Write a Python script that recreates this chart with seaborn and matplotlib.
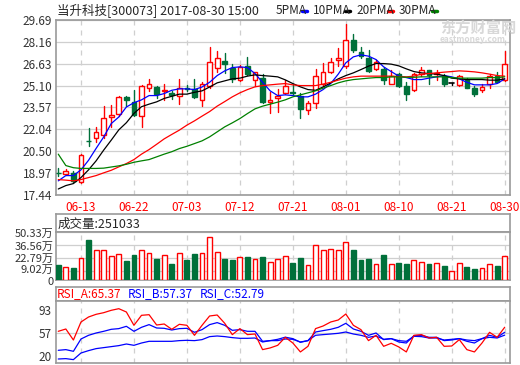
import matplotlib
matplotlib.use("Agg")
import matplotlib.pyplot as plt
import seaborn as sns
import pandas as pd
from matplotlib.lines import Line2D
from matplotlib.patches import Rectangle
from matplotlib.transforms import ScaledTranslation


dates = ["06-08", "06-09", "06-12", "06-13", "06-14", "06-15", "06-16", "06-19", "06-20", "06-21",
         "06-22", "06-23", "06-26", "06-27", "06-28", "06-29", "06-30", "07-03", "07-04", "07-05",
         "07-06", "07-07", "07-10", "07-11", "07-12", "07-13", "07-14", "07-17", "07-18", "07-19",
         "07-20", "07-21", "07-24", "07-25", "07-26", "07-27", "07-28", "07-31", "08-01", "08-02",
         "08-03", "08-04", "08-07", "08-08", "08-09", "08-10", "08-11", "08-14", "08-15", "08-16",
         "08-17", "08-18", "08-21", "08-22", "08-23", "08-24", "08-25", "08-28", "08-29", "08-30"]

opens = [19.00, 18.90, 19.00, 18.35, 21.25, 21.40, 21.65, 22.90, 23.10, 24.30,
         23.98, 22.96, 24.96, 25.00, 24.70, 24.55, 24.35, 24.93, 24.87, 24.08,
         25.10, 26.36, 26.83, 26.32, 25.48, 26.46, 25.52, 25.62, 23.94, 24.26,
         24.60, 24.62, 24.40, 23.38, 23.85, 25.24, 26.08, 26.88, 26.50, 28.28,
         27.44, 27.06, 26.27, 26.27, 25.24, 25.90, 25.06, 24.78, 25.90, 26.17,
         25.92, 25.76, 25.29, 25.15, 25.48, 24.92, 24.78, 25.24, 25.80, 25.48]
highs = [19.32, 19.27, 19.10, 20.30, 22.10, 22.20, 23.65, 23.75, 24.38, 24.38,
         24.80, 25.12, 25.57, 25.05, 25.24, 24.75, 25.57, 25.12, 25.57, 25.38,
         27.81, 27.53, 27.39, 26.60, 26.51, 27.11, 26.08, 25.94, 24.64, 24.87,
         25.48, 25.20, 24.59, 24.00, 26.27, 26.69, 27.02, 27.76, 29.44, 28.74,
         27.81, 27.58, 26.88, 26.41, 26.22, 26.00, 25.38, 26.00, 26.41, 26.22,
         26.22, 25.90, 25.30, 25.85, 25.62, 25.10, 25.24, 25.90, 26.08, 27.53]
lows = [18.80, 18.85, 18.35, 18.30, 20.90, 21.15, 21.40, 22.20, 23.00, 23.70,
        23.00, 22.20, 24.73, 24.26, 24.08, 24.17, 23.80, 24.73, 24.25, 23.66,
        24.96, 26.08, 25.99, 25.38, 25.43, 25.85, 25.10, 23.89, 23.19, 23.24,
        24.50, 24.45, 22.81, 23.14, 23.56, 25.10, 25.99, 26.50, 26.36, 27.48,
        27.02, 26.08, 26.22, 25.24, 25.20, 25.00, 24.08, 24.73, 25.76, 25.24,
        25.48, 25.10, 25.15, 25.10, 24.92, 24.36, 24.64, 24.96, 25.33, 25.43]
closes = [18.95, 19.12, 18.40, 20.25, 21.20, 21.85, 22.80, 23.05, 24.30, 24.08,
          23.07, 25.06, 25.24, 24.50, 24.80, 24.45, 24.96, 24.88, 24.27, 25.20,
          26.74, 27.02, 26.60, 25.57, 26.41, 25.90, 26.04, 23.98, 24.12, 24.34,
          25.06, 24.56, 23.47, 23.89, 25.80, 26.04, 26.74, 27.02, 28.28, 27.58,
          27.16, 26.13, 26.74, 25.48, 25.80, 25.10, 24.54, 25.94, 26.22, 25.85,
          25.99, 25.24, 25.29, 25.76, 24.96, 24.50, 25.01, 25.80, 25.38, 26.60]

ma5 = [18.43, 18.80, 18.80, 19.20, 19.87, 20.70, 21.50, 22.44, 22.90, 23.60,
       23.90, 24.10, 24.40, 24.40, 24.54, 24.77, 24.87, 24.87, 24.82, 25.00,
       25.33, 25.80, 26.13, 26.36, 26.41, 26.36, 25.94, 25.33, 24.73, 24.40,
       24.45, 24.40, 24.31, 24.31, 24.50, 24.82, 25.24, 25.90, 26.69, 27.11,
       27.25, 27.16, 26.92, 26.41, 26.08, 25.76, 25.66, 25.52, 25.52, 25.62,
       25.71, 25.80, 25.71, 25.57, 25.33, 25.15, 25.15, 25.15, 25.24, 25.57]
ma10 = [17.86, 18.10, 18.24, 18.66, 19.20, 19.83, 20.58, 21.28, 22.00, 22.50,
        23.15, 23.62, 23.80, 23.96, 24.20, 24.35, 24.50, 24.50, 24.63, 24.73,
        25.00, 25.29, 25.43, 25.57, 25.62, 25.76, 25.85, 25.80, 25.76, 25.71,
        25.50, 25.24, 25.01, 24.82, 24.77, 25.00, 25.29, 25.57, 25.80, 25.99,
        26.22, 26.46, 26.64, 26.64, 26.60, 26.48, 26.27, 26.08, 25.99, 25.94,
        25.90, 25.80, 25.62, 25.57, 25.52, 25.52, 25.52, 25.48, 25.48, 25.57]
ma20 = [18.52, 18.48, 18.43, 18.52, 18.66, 18.80, 18.99, 19.17, 19.41, 19.64,
        19.92, 20.30, 20.62, 20.99, 21.37, 21.68, 21.98, 22.33, 22.63, 22.96,
        23.28, 23.66, 23.98, 24.31, 24.59, 24.82, 25.01, 25.10, 25.15, 25.20,
        25.24, 25.15, 25.10, 25.10, 25.10, 25.20, 25.33, 25.48, 25.62, 25.71,
        25.76, 25.76, 25.76, 25.76, 25.76, 25.73, 25.71, 25.76, 25.90, 25.94,
        25.99, 26.04, 26.08, 26.13, 26.10, 26.06, 25.99, 25.90, 25.80, 25.76]
ma30 = [20.30, 19.50, 19.35, 19.30, 19.30, 19.30, 19.32, 19.40, 19.48, 19.59,
        19.73, 19.83, 19.92, 20.11, 20.30, 20.47, 20.69, 20.85, 21.04, 21.23,
        21.51, 21.86, 22.21, 22.49, 22.79, 23.14, 23.47, 23.66, 23.80, 23.94,
        24.10, 24.31, 24.45, 24.59, 24.73, 24.92, 25.10, 25.29, 25.43, 25.52,
        25.57, 25.62, 25.66, 25.66, 25.71, 25.71, 25.68, 25.68, 25.71, 25.71,
        25.71, 25.71, 25.66, 25.62, 25.62, 25.62, 25.62, 25.66, 25.66, 25.71]

# volume in 万 shares
volumes = [15.9, 13.4, 12.7, 22.9, 42.3, 31.4, 31.4, 25.0, 27.2, 20.1,
           26.5, 31.4, 28.6, 22.2, 26.1, 16.9, 28.2, 21.2, 27.5, 28.2,
           45.1, 29.3, 22.2, 21.2, 24.0, 24.3, 21.9, 24.3, 18.7, 21.9,
           25.0, 18.3, 23.3, 15.5, 36.7, 31.4, 32.5, 31.4, 39.9, 31.7,
           21.2, 22.2, 16.6, 26.5, 16.6, 18.0, 16.9, 20.8, 18.7, 16.9,
           17.6, 14.8, 9.2, 17.6, 13.8, 11.6, 12.3, 16.6, 14.8, 25.1]

rsi_a = [58.9, 62.6, 45.0, 73.8, 81.8, 86.1, 88.7, 92.5, 95.1, 89.8,
         68.5, 84.5, 85.5, 69.0, 70.6, 62.1, 70.1, 68.5, 52.5, 68.5,
         83.4, 85.0, 71.7, 53.6, 63.2, 53.6, 54.6, 29.6, 32.3, 36.5,
         49.3, 40.2, 25.9, 34.9, 63.2, 67.4, 73.8, 77.0, 86.6, 68.5,
         61.6, 44.0, 52.5, 34.9, 39.7, 33.9, 25.9, 52.5, 53.6, 48.2,
         49.3, 34.9, 35.4, 45.6, 29.6, 25.9, 40.2, 57.3, 49.3, 65.37]
rsi_b = [28.5, 29.6, 26.9, 46.6, 52.5, 56.2, 58.9, 62.1, 63.2, 66.9,
         58.9, 65.3, 69.6, 64.2, 63.7, 61.0, 63.2, 63.7, 57.3, 61.6,
         69.6, 72.8, 68.5, 60.5, 61.6, 58.9, 58.9, 42.9, 44.0, 46.1,
         49.5, 47.2, 41.3, 44.0, 57.8, 60.0, 62.1, 65.3, 71.7, 62.6,
         58.9, 52.5, 56.2, 45.6, 47.2, 41.8, 40.2, 52.0, 52.5, 49.3,
         49.3, 44.0, 45.0, 47.2, 42.9, 40.2, 47.2, 52.5, 49.3, 57.37]
rsi_c = [14.6, 15.2, 13.6, 24.2, 28.0, 31.2, 32.8, 34.4, 36.0, 38.6,
         36.5, 40.2, 42.9, 42.9, 42.9, 42.9, 44.0, 44.5, 44.0, 45.6,
         50.4, 51.4, 50.4, 48.8, 47.7, 47.7, 48.2, 41.8, 44.0, 44.0,
         46.6, 46.1, 41.8, 44.0, 52.5, 53.6, 54.6, 55.7, 57.8, 54.6,
         52.5, 49.3, 51.4, 46.1, 47.2, 44.0, 42.9, 50.9, 50.4, 48.2,
         48.2, 45.0, 46.1, 47.2, 45.0, 44.0, 47.2, 49.3, 48.2, 52.79]

date_ticks = ["06-13", "06-22", "07-03", "07-12", "07-21", "08-01", "08-10", "08-21", "08-30"]
price_ticks = [29.69, 28.16, 26.63, 25.10, 23.57, 22.04, 20.50, 18.97, 17.44]
vol_ticks = [0, 9.02, 22.79, 36.56, 50.33]
rsi_ticks = [20, 57, 93]


W, H = 520, 365
RED = "#ff0000"
GREEN = "#00703a"
BLUE = "#0000ff"
GRID = "#cfcfcf"
FRAME = "#9a9a9a"

sns.set_style("white")
plt.rcParams["font.family"] = ["Noto Sans CJK SC", "DejaVu Sans"]


def rect(x0, y0, x1, y1):
    return [x0 / W, 1 - y1 / H, (x1 - x0) / W, (y1 - y0) / H]


def frame(ax):
    for s in ax.spines.values():
        s.set_color(FRAME)
        s.set_linewidth(1.2)
        s.set_visible(True)


df = pd.DataFrame({
    "i": range(len(dates)), "date": dates,
    "open": opens, "high": highs, "low": lows, "close": closes,
    "ma5": ma5, "ma10": ma10, "ma20": ma20, "ma30": ma30,
    "vol": volumes, "rsi_a": rsi_a, "rsi_b": rsi_b, "rsi_c": rsi_c,
})
tick_pos = [dates.index(d) for d in date_ticks]
xlim = (-0.3, len(dates) - 0.3)

fig = plt.figure(figsize=(W / 100, H / 100), dpi=100)

# ---------------- price panel
ax = fig.add_axes(rect(56, 20, 510, 195))
for p in price_ticks:
    ax.axhline(p, color=GRID, lw=0.9, zorder=0)
for t in tick_pos:
    ax.axvline(t, color=GRID, lw=0.9, ls=(0, (4, 4)), zorder=0)

bw = 0.62
for r in df.itertuples():
    if r.close > r.open:
        c = RED
        ax.add_patch(Rectangle((r.i - bw / 2, r.open), bw, r.close - r.open,
                               facecolor="white", edgecolor=c, lw=1.0, zorder=3))
        ax.plot([r.i, r.i], [r.low, r.open], color=c, lw=1.0, zorder=3)
        ax.plot([r.i, r.i], [r.close, r.high], color=c, lw=1.0, zorder=3)
    elif r.close < r.open:
        c = GREEN
        ax.plot([r.i, r.i], [r.low, r.high], color=c, lw=1.0, zorder=3)
        ax.add_patch(Rectangle((r.i - bw / 2, r.close), bw, r.open - r.close,
                               facecolor=c, edgecolor=c, lw=1.0, zorder=3))
    else:
        ax.plot([r.i, r.i], [r.low, r.high], color="black", lw=1.0, zorder=3)
        ax.plot([r.i - bw / 2, r.i + bw / 2], [r.open, r.open], color="black", lw=1.2, zorder=3)

for col, color in [("ma5", BLUE), ("ma10", "black"), ("ma20", RED), ("ma30", "#008000")]:
    sns.lineplot(data=df, x="i", y=col, color=color, lw=0.9, ax=ax, zorder=4)

ax.set_xlim(*xlim)
ax.set_ylim(17.44, 29.69)
ax.set_yticks(price_ticks, [f"{p:.2f}" for p in price_ticks])
ax.set_xticks(tick_pos, date_ticks)
ax.tick_params(axis="y", length=0, pad=3, labelsize=8.5, labelcolor="#333333")
ax.tick_params(axis="x", length=0, pad=4, labelsize=8.5, labelcolor=RED)
ax.set_xlabel("")
ax.set_ylabel("")
frame(ax)

# title + legend
fig.text(57 / W, 1 - 10 / H, "当升科技[300073] 2017-08-30 15:00", fontsize=9, va="center", ha="left")
legend_items = [("5PMA", 276, BLUE, 302), ("10PMA", 313, "black", 345),
                ("20PMA", 356, RED, 388), ("30PMA", 399, "#008000", 432)]
for label, tx, color, lx in legend_items:
    fig.text(tx / W, 1 - 10 / H, label, fontsize=8.5, va="center", ha="left")
    fig.add_artist(Line2D([lx / W, (lx + 5) / W], [1 - 11 / H, 1 - 11 / H], color=color, lw=2.5))

# watermark
fig.text(440 / W, 1 - 28 / H, "东方财富网", fontsize=11, color="#d8d8d8", fontweight="bold", va="center")
fig.text(440 / W, 1 - 40 / H, "eastmoney.com", fontsize=6, color="#d8d8d8", fontweight="bold", va="center")

# ---------------- volume panel
axvt = fig.add_axes(rect(56, 214, 510, 232))
axvt.set_xticks([])
axvt.set_yticks([])
frame(axvt)
axvt.text(0.003, 0.45, "成交量:251033", transform=axvt.transAxes, fontsize=9, va="center")

axv = fig.add_axes(rect(56, 232, 510, 280))
for v in vol_ticks[1:]:
    axv.axhline(v, color=GRID, lw=0.9, zorder=0)
for t in tick_pos:
    axv.axvline(t, color=GRID, lw=0.9, ls=(0, (4, 4)), zorder=0)
vw = 0.64
for r in df.itertuples():
    if r.close >= r.open:
        axv.bar(r.i, r.vol, width=vw, facecolor="white", edgecolor=RED, lw=1.0, zorder=3)
    else:
        axv.bar(r.i, r.vol, width=vw, facecolor=GREEN, edgecolor=GREEN, lw=1.0, zorder=3)
axv.set_xlim(*xlim)
axv.set_ylim(0, 50.8)
axv.set_xticks([])
axv.set_yticks(vol_ticks, ["0"] + [f"{v:.2f}万" for v in vol_ticks[1:]])
axv.tick_params(axis="y", length=0, pad=2, labelsize=8, labelcolor="#333333")
# nudge the crowded bottom labels apart, as the reference does
ylabels = axv.get_yticklabels()
for lab, dy in zip(ylabels, [-1, 3, 1, 0, 0]):
    lab.set_transform(lab.get_transform() + ScaledTranslation(0, dy / 100, fig.dpi_scale_trans))
frame(axv)

# ---------------- RSI panel
axrt = fig.add_axes(rect(56, 287, 510, 301))
axrt.set_xticks([])
axrt.set_yticks([])
frame(axrt)
for label, x, color in [("RSI_A:65.37", 57, RED), ("RSI_B:57.37", 128, BLUE), ("RSI_C:52.79", 200, BLUE)]:
    fig.text(x / W, 1 - 294 / H, label, fontsize=8.5, color=color, va="center")

axr = fig.add_axes(rect(56, 301, 510, 363))
axr.axhline(57, color=GRID, lw=0.9, zorder=0)
for t in tick_pos:
    axr.axvline(t, color=GRID, lw=0.9, ls=(0, (4, 4)), zorder=0)
sns.lineplot(data=df, x="i", y="rsi_c", color=BLUE, lw=0.9, ax=axr)
sns.lineplot(data=df, x="i", y="rsi_b", color=BLUE, lw=0.9, ax=axr)
sns.lineplot(data=df, x="i", y="rsi_a", color=RED, lw=0.9, ax=axr)
axr.set_xlim(*xlim)
axr.set_ylim(8.2, 107.4)
axr.set_xticks([])
axr.set_yticks(rsi_ticks, [str(v) for v in rsi_ticks])
axr.tick_params(axis="y", length=0, pad=3, labelsize=8.5, labelcolor="#333333")
axr.set_xlabel("")
axr.set_ylabel("")
frame(axr)

fig.savefig("out.png", dpi=100)
